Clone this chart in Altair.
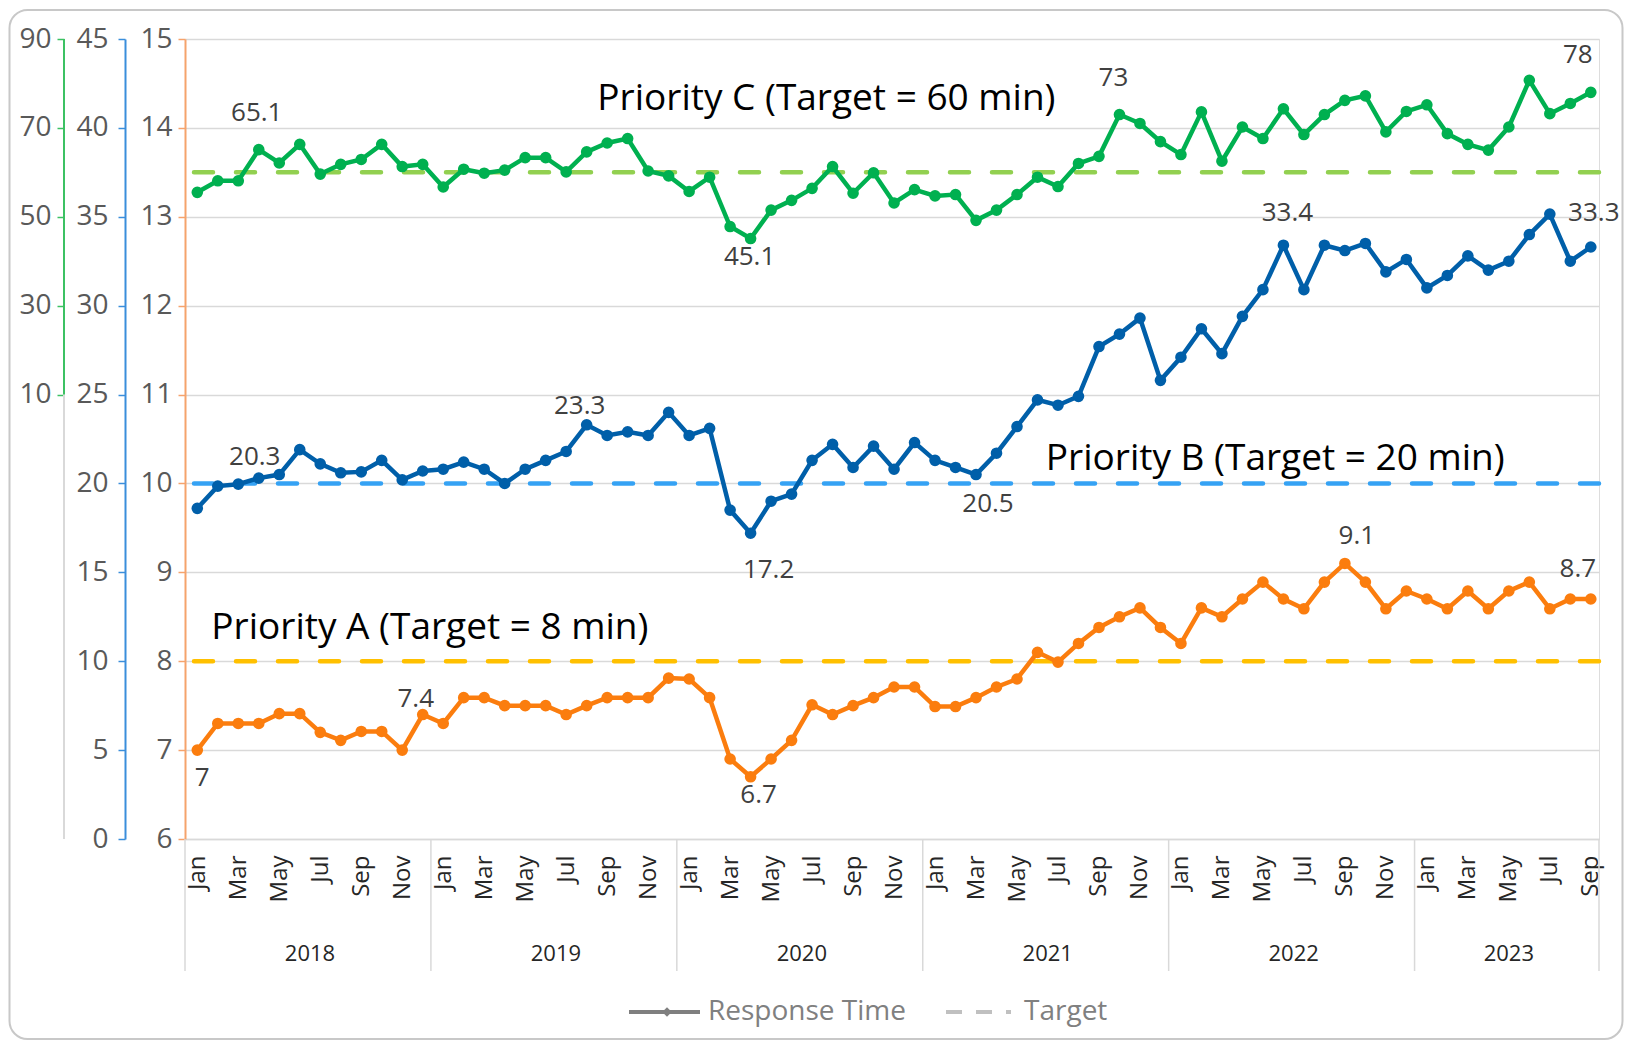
import json
import altair as alt
import pandas as pd

months = ["Jan", "Feb", "Mar", "Apr", "May", "Jun", "Jul", "Aug", "Sep", "Oct", "Nov", "Dec"]
years = [2018, 2019, 2020, 2021, 2022, 2023]
months_per_year = [12, 12, 12, 12, 12, 9]

priority_a = [7.0, 7.3, 7.3, 7.3, 7.41, 7.41, 7.2, 7.11, 7.21, 7.21, 7.0, 7.4,
              7.3, 7.59, 7.59, 7.5, 7.5, 7.5, 7.4, 7.5, 7.59, 7.59, 7.59, 7.81,
              7.8, 7.59, 6.9, 6.7, 6.9, 7.11, 7.51, 7.4, 7.5, 7.59, 7.71, 7.71,
              7.49, 7.49, 7.59, 7.71, 7.8, 8.1, 7.99, 8.2, 8.38, 8.5, 8.6, 8.38,
              8.2, 8.6, 8.5, 8.7, 8.89, 8.7, 8.59, 8.89, 9.1, 8.89, 8.59, 8.79,
              8.7, 8.59, 8.79, 8.59, 8.79, 8.89, 8.59, 8.7, 8.7]
priority_b = [18.6, 19.85, 19.96, 20.3, 20.5, 21.9, 21.1, 20.6, 20.65, 21.3, 20.2, 20.7,
              20.8, 21.2, 20.8, 20.0, 20.8, 21.3, 21.8, 23.3, 22.7, 22.9, 22.7, 24.0,
              22.7, 23.1, 18.5, 17.2, 19.0, 19.4, 21.3, 22.2, 20.9, 22.1, 20.8, 22.3,
              21.3, 20.9, 20.5, 21.7, 23.2, 24.7, 24.4, 24.9, 27.7, 28.4, 29.3, 25.8,
              27.1, 28.7, 27.3, 29.4, 30.9, 33.4, 30.9, 33.4, 33.1, 33.5, 31.9, 32.6,
              31.0, 31.7, 32.8, 32.0, 32.5, 34.0, 35.15, 32.5, 33.3]
priority_c = [55.5, 58.1, 58.1, 65.1, 62.1, 66.3, 59.6, 61.8, 62.9, 66.3, 61.3, 61.8,
              56.7, 60.7, 59.8, 60.5, 63.3, 63.3, 60.1, 64.6, 66.6, 67.6, 60.3, 59.2,
              55.7, 58.9, 47.8, 45.1, 51.5, 53.7, 56.4, 61.3, 55.3, 59.9, 53.1, 56.1,
              54.7, 55.0, 49.2, 51.5, 55.0, 58.9, 56.8, 62.0, 63.6, 73.0, 71.0, 66.9,
              64.0, 73.6, 62.5, 70.2, 67.6, 74.3, 68.5, 73.0, 76.2, 77.2, 69.1, 73.7,
              75.2, 68.7, 66.3, 65.0, 70.2, 80.7, 73.2, 75.5, 78.0]

targets = {"A": 8, "B": 20, "C": 60}

# labelled points: (index, dx, dy)
labels_a = [(0, 5, 28), (11, -7, -16), (27, 8, 18), (56, 12, -27), (68, -13, -30)]
labels_b = [(3, -4, -21), (19, -7, -19), (27, 18, 37), (38, 12, 29), (53, 4, -32), (68, 3, -34)]
labels_c = [(3, -2, -37), (27, -1, 18), (45, -6, -37), (68, -13, -37)]

titles = {
    "A": (11.35, 8.37, "Priority A (Target = 8 min)"),
    "B": (52.6, 21.4, "Priority B (Target = 20 min)"),
    "C": (30.7, 76.4, "Priority C (Target = 60 min)"),
}

FONT = "Open Sans"
W, H = 1414, 800

n = len(priority_a)
df = pd.DataFrame({"i": list(range(n)), "A": priority_a, "B": priority_b, "C": priority_c})

xscale = alt.Scale(domain=[-0.6, n - 0.6], nice=False, zero=False)
label_expr = json.dumps(months) + "[datum.value % 12]"
xaxis = alt.Axis(values=list(range(0, n, 2)), labelExpr=label_expr, labelAngle=270,
                 ticks=False, tickSize=0, domain=True, domainColor="#d9d9d9", domainWidth=1.5,
                 grid=False, labelFontSize=24, labelFont=FONT, labelColor="#262626",
                 labelPadding=16, title=None, labelOverlap=False, labelBound=False,
                 labelFlush=False)


def X(field):
    return alt.X(field, type="quantitative", scale=xscale, axis=xaxis)


def group(col, color, tcolor, domain, axis, labels):
    yscale = alt.Scale(domain=domain, nice=False, zero=False)

    def Y(field):
        return alt.Y(field, type="quantitative", scale=yscale, axis=axis)

    base = alt.Chart(df)
    line = base.mark_line(color=color, strokeWidth=4.5).encode(x=X("i"), y=Y(col))
    pts = base.mark_circle(color=color, size=135, opacity=1).encode(x=X("i"), y=Y(col))
    tgt = alt.Chart(pd.DataFrame({"t": [targets[col]]})).mark_rule(
        color=tcolor, strokeWidth=4.5, strokeDash=[19, 23], strokeCap="round"
    ).encode(y=Y("t"))
    layers = [tgt, line, pts]
    vals = df[col].tolist()
    for (k, dx, dy) in labels:
        ld = pd.DataFrame({"i": [k], "v": [vals[k]], "t": [f"{vals[k]:g}"]})
        layers.append(alt.Chart(ld).mark_text(font=FONT, fontSize=26, color="#404040",
                                              dx=dx, dy=dy).encode(x=X("i"), y=Y("v"), text="t:N"))
    tx, ty, tt = titles[col]
    td = pd.DataFrame({"x": [tx], "y": [ty], "t": [tt]})
    layers.append(alt.Chart(td).mark_text(font=FONT, fontSize=37, color="#000000").encode(
        x=X("x"), y=Y("y"), text="t:N"))
    return layers, Y


axis_common = dict(orient="left", title=None, labelFont=FONT, labelFontSize=28,
                   labelColor="#595959", tickSize=7, domainWidth=2, tickWidth=1.5)

axis_a = alt.Axis(values=list(range(6, 16)), offset=0, domainColor="#f5a36c", tickColor="#f5a36c",
                  labelPadding=6, grid=True, gridColor="#d9d9d9", gridWidth=1.5, **axis_common)
axis_b = alt.Axis(values=list(range(0, 46, 5)), offset=60, domainColor="#3a8edb", tickColor="#3a8edb",
                  labelPadding=10, grid=False, **axis_common)
axis_c = alt.Axis(values=[10, 30, 50, 70, 90], offset=121, domain=False, tickColor="#3cc163",
                  labelPadding=6, grid=False, **axis_common)

layers_a, _ = group("A", "#fb7d0e", "#ffc000", [6, 15], axis_a, labels_a)
layers_b, _ = group("B", "#005fa9", "#35a2f4", [0, 45], axis_b, labels_b)
layers_c, YC = group("C", "#00b050", "#92d050", [-90, 90], axis_c, labels_c)

green_dom = alt.Chart(pd.DataFrame({"lo": [10], "hi": [90]})).mark_rule(
    color="#3cc163", strokeWidth=2).encode(x=alt.value(-121), y=YC("lo"), y2="hi:Q")
gray_dom = alt.Chart(pd.DataFrame({"lo": [-90], "hi": [10]})).mark_rule(
    color="#d9d9d9", strokeWidth=2).encode(x=alt.value(-121), y=YC("lo"), y2="hi:Q")
layers_c = [gray_dom, green_dom] + layers_c

gA = alt.layer(*layers_a)
gB = alt.layer(*layers_b)
gC = alt.layer(*layers_c)

# year separators and labels
starts = [0]
for m in months_per_year[:-1]:
    starts.append(starts[-1] + m)
sep = pd.DataFrame({"s": [s - 0.6 for s in starts] + [n - 0.6]})
yl = pd.DataFrame({"c": [s + (m - 1) / 2 for s, m in zip(starts, months_per_year)],
                   "t": [str(y) for y in years]})
seps = alt.Chart(sep).mark_rule(color="#d9d9d9", strokeWidth=1.5).encode(
    x=X("s"), y=alt.value(H), y2=alt.value(H + 132))
ylabels = alt.Chart(yl).mark_text(font=FONT, fontSize=22, color="#262626").encode(
    x=X("c"), y=alt.value(H + 115), text="t:N")

# legend
one = pd.DataFrame({"a": [0]})
leg_line = alt.Chart(one).mark_rule(color="#7f7f7f", strokeWidth=4).encode(
    x=alt.value(444), x2=alt.value(515), y=alt.value(H + 173))
leg_pt = alt.Chart(one).mark_point(shape="diamond", filled=True, color="#7f7f7f", size=90, opacity=1).encode(
    x=alt.value(482), y=alt.value(H + 173))
leg_dash = alt.Chart(one).mark_rule(color="#c0c0c0", strokeWidth=4, strokeDash=[16, 14]).encode(
    x=alt.value(761), x2=alt.value(826), y=alt.value(H + 173))
leg_t1 = alt.Chart(pd.DataFrame({"t": ["Response Time"]})).mark_text(
    font=FONT, fontSize=28, color="#808080", align="left", baseline="middle").encode(
    x=alt.value(523), y=alt.value(H + 173), text="t:N")
leg_t2 = alt.Chart(pd.DataFrame({"t": ["Target"]})).mark_text(
    font=FONT, fontSize=28, color="#808080", align="left", baseline="middle").encode(
    x=alt.value(839), y=alt.value(H + 173), text="t:N")

border = alt.Chart(one).mark_rect(fillOpacity=0, stroke="#c8c8c8", strokeWidth=2, cornerRadius=18).encode(
    x=alt.value(-175.5), x2=alt.value(1437.5), y=alt.value(-29), y2=alt.value(1000))

chart = alt.layer(gC, gB, gA, seps, ylabels, leg_line, leg_pt, leg_dash, leg_t1, leg_t2, border).resolve_scale(
    y="independent"
).properties(
    width=W, height=H,
    padding={"left": 177, "top": 31, "right": 26, "bottom": 202},
    autosize=alt.AutoSizeParams(type="none"),
).configure_view(stroke=None).configure(background="white")

chart.save("out.html", embed_options={"renderer": "svg", "actions": False})
